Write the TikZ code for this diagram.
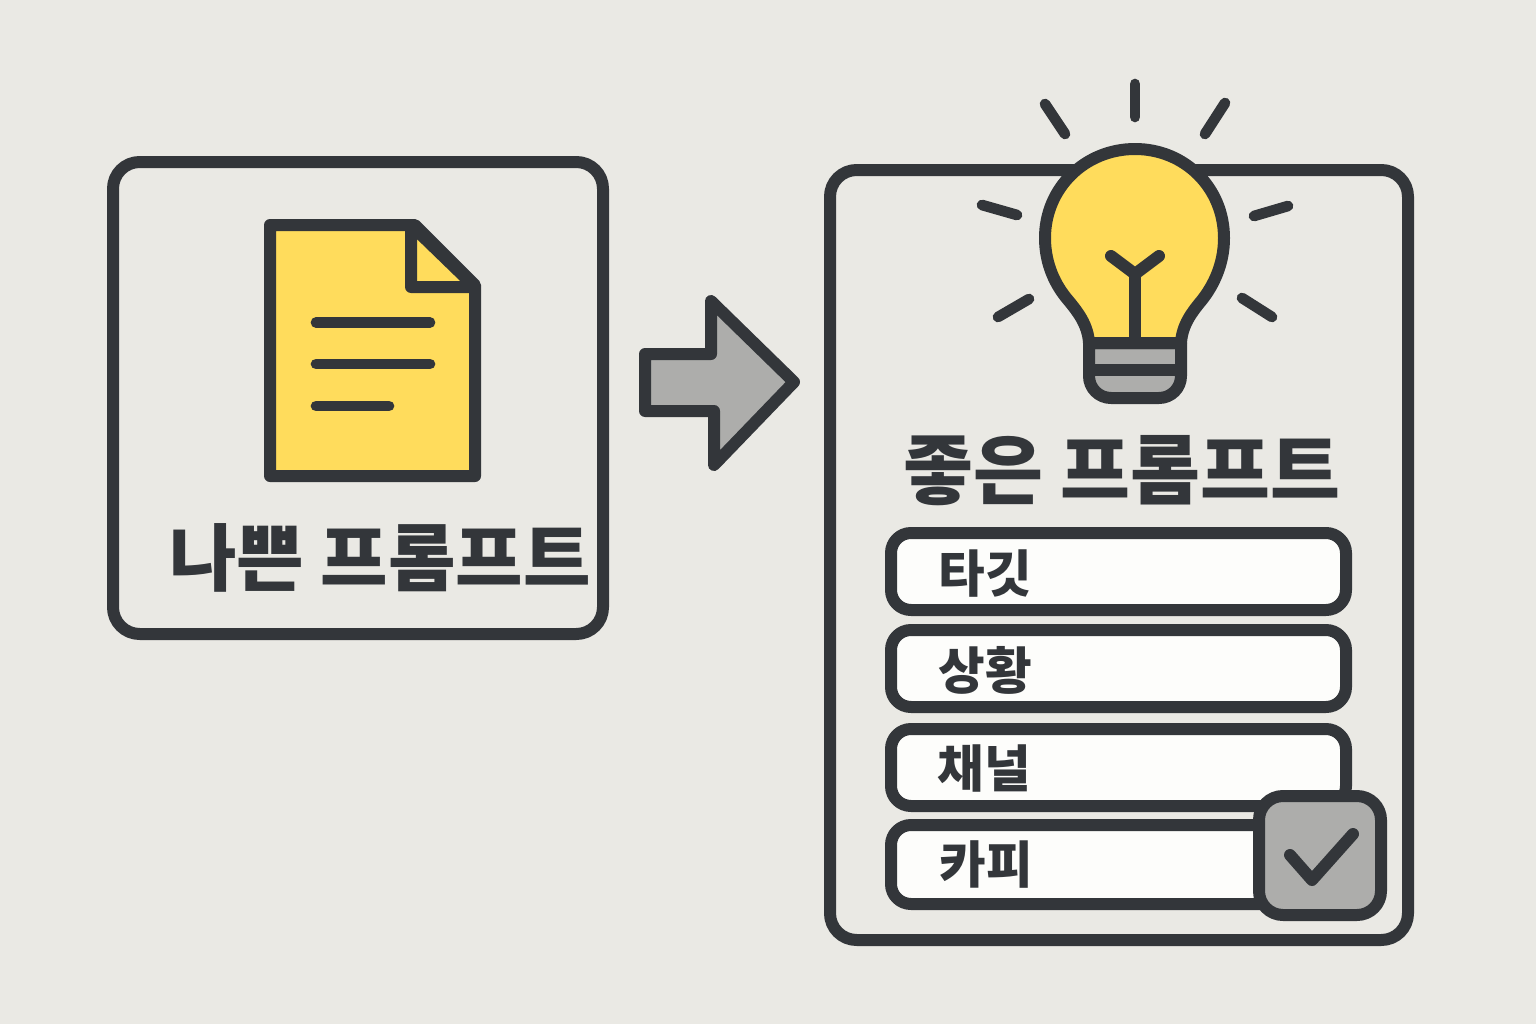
\documentclass[tikz,border=0pt]{standalone}
\usepackage{fontspec}
\newfontfamily\cjk{Noto Sans CJK KR}
\usetikzlibrary{arrows.meta,calc,positioning}
\definecolor{inkc}{HTML}{33363A}
\definecolor{paperc}{HTML}{EAE9E4}
\definecolor{sunc}{HTML}{FFDC5C}
\definecolor{grayc}{HTML}{ADADAB}
\definecolor{rowc}{HTML}{FDFDFB}
\tikzset{
	ink/.style={draw=inkc, line width=9pt, line join=round, line cap=round},
	thin ink/.style={ink, line width=8pt},
	rowbox/.style={ink, fill=rowc, rounded corners=15pt},
	rowtext/.style={text=inkc, font=\cjk\bfseries\fontsize{38}{38}\selectfont, anchor=west},
	titletext/.style={text=inkc, font=\cjk\bfseries\fontsize{#1}{#1}\selectfont},
}
\begin{document}
\begin{tikzpicture}[x=0.75pt,y=-0.75pt]
	\useasboundingbox[fill=paperc] (0,0) rectangle (1536,1024);

	% left panel
	\draw[ink, rounded corners=20pt] (113,162) rectangle (603,634);
	\draw[ink, fill=sunc] (270,225) -- (415,225) -- (475,285) -- (475,476) -- (270,476) -- cycle;
	\draw[ink, fill=sunc] (411,225) -- (411,287) -- (475,287) -- cycle;
	\draw[thin ink] (316,322.5) -- (430,322.5);
	\draw[thin ink] (316,364) -- (430,364);
	\draw[thin ink] (316,406) -- (389,406);
	\node[titletext=55] (badtitle) at (380,558) {나쁜 프롬프트};

	% arrow
	\draw[ink, fill=grayc] (645,354) -- (711,354) -- (711,301) -- (794,382) -- (714,465) -- (714,411) -- (645,411) -- cycle;

	% right panel
	\draw[ink, rounded corners=20pt] (830,170) rectangle (1408,940);

	% bulb
	\draw[ink, fill=grayc] (1089,343) -- (1089,376) arc[start angle=180, end angle=90, radius=22] -- (1159,398) arc[start angle=90, end angle=0, radius=22] -- (1181,343) -- cycle;
	\draw[ink, fill=sunc] (1089,343) .. controls (1088,325) and (1078,312) .. (1068,300)
		.. controls (1056,286) and (1045,265) .. (1045,238)
		.. controls (1045,188) and (1085,149) .. (1135,149)
		.. controls (1185,149) and (1224,188) .. (1224,238)
		.. controls (1224,265) and (1213,286) .. (1202,300)
		.. controls (1192,312) and (1182,325) .. (1181,343) -- cycle;
	\draw[ink, line cap=butt] (1089,370) -- (1181,370);
	\draw[ink] (1135,340) -- (1135,274);
	\draw[ink] (1111,256) -- (1135,274) -- (1159,256);
	\draw[thin ink] (1135,84) -- (1135,117);
	\draw[thin ink] (1045,104) -- (1065,134);
	\draw[thin ink] (1225,103) -- (1205,134);
	\draw[thin ink] (982,205) -- (1017,215);
	\draw[thin ink] (1288,206) -- (1254,216);
	\draw[thin ink] (998,317) -- (1029,299);
	\draw[thin ink] (1272,317) -- (1242,298);

	\node[titletext=57] (goodtitle) at (1122,471) {좋은 프롬프트};

	% rows
	\draw[rowbox] (891,533) rectangle (1346,610);
	\node[rowtext] (target) at (934,574) {타깃};
	\draw[rowbox] (891,630) rectangle (1346,707);
	\node[rowtext] (situation) at (934,670) {상황};
	\draw[rowbox] (891,729) rectangle (1346,806);
	\node[rowtext] (channel) at (933,768) {채널};
	\draw[rowbox] (891,825) rectangle (1346,904);
	\node[rowtext] (copy) at (935,864) {카피};

	% check
	\draw[ink, fill=grayc, rounded corners=18pt] (1259,796) rectangle (1381,915);
	\draw[ink] (1290,855) -- (1312,880) -- (1353,834);
\end{tikzpicture}
\end{document}
